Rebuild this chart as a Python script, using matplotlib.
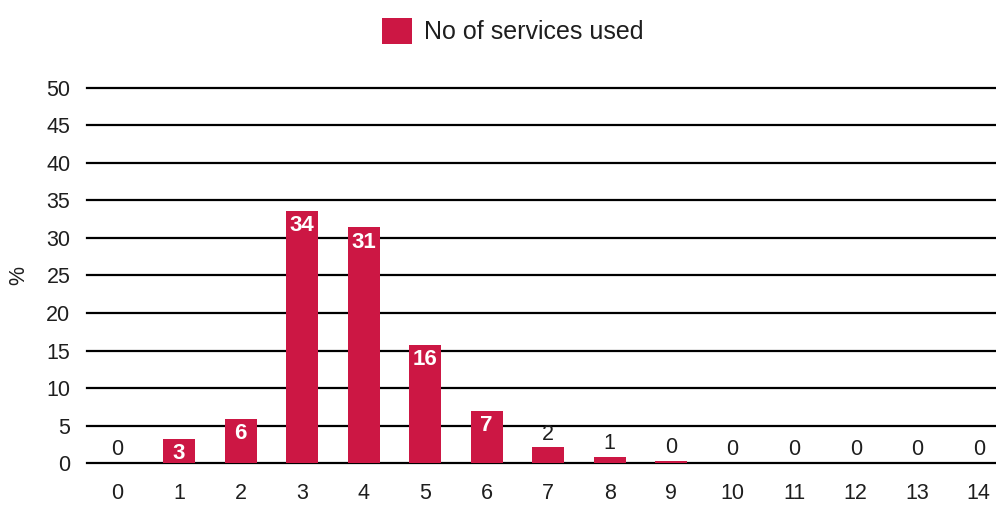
import matplotlib
matplotlib.use("Agg")
import matplotlib.pyplot as plt

categories = list(range(15))
values = [0, 3.2, 5.9, 33.6, 31.4, 15.7, 6.9, 2.1, 0.8, 0.25, 0, 0, 0, 0, 0]
labels = ["0", "3", "6", "34", "31", "16", "7", "2", "1", "0", "0", "0", "0", "0", "0"]
series_name = "No of services used"
color = "#CC1744"

plt.rcParams['font.family'] = ['Liberation Sans', 'DejaVu Sans']
txt = '#1e1e1e'

fig = plt.figure(figsize=(9.96, 5.05), dpi=100)
ax = fig.add_axes([0.0873, 0.083, 0.9127, 0.743])

bars = ax.bar(categories, values, width=0.52, color=color, label=series_name, zorder=3)

ax.set_ylim(0, 50)
ax.set_xlim(-0.496, 14.28)
ax.set_yticks(range(0, 51, 5))
ax.set_xticks(categories)
ax.set_xticklabels([str(c) for c in categories])
ax.yaxis.grid(True, color='black', linewidth=1.6, zorder=0)
for gl in ax.get_ygridlines():
    gl.set_clip_on(False)
ax.set_axisbelow(True)
for s in ax.spines.values():
    s.set_visible(False)
ax.tick_params(axis='both', length=0, labelsize=15.5, colors=txt)
ax.tick_params(axis='x', pad=14)
ax.tick_params(axis='y', pad=12)
ax.set_ylabel('%', fontsize=15.5, color=txt, labelpad=12)

for c, v, lab in zip(categories, values, labels):
    if v >= 3:
        ax.annotate(lab, (c, v), xytext=(0, -3), textcoords='offset points',
                    ha='center', va='top', color='white', fontsize=16, fontweight='bold', zorder=4)
    else:
        ax.annotate(lab, (c, v), xytext=(0, 2), textcoords='offset points',
                    ha='center', va='bottom', color=txt, fontsize=15.5, zorder=4)

fig.legend(handles=[bars], labels=[series_name], loc='center', bbox_to_anchor=(0.515, 0.938),
           frameon=False, fontsize=18, handlelength=1.2, handleheight=1.2, handletextpad=0.5,
           labelcolor=txt)

fig.savefig('out.png', dpi=100)
